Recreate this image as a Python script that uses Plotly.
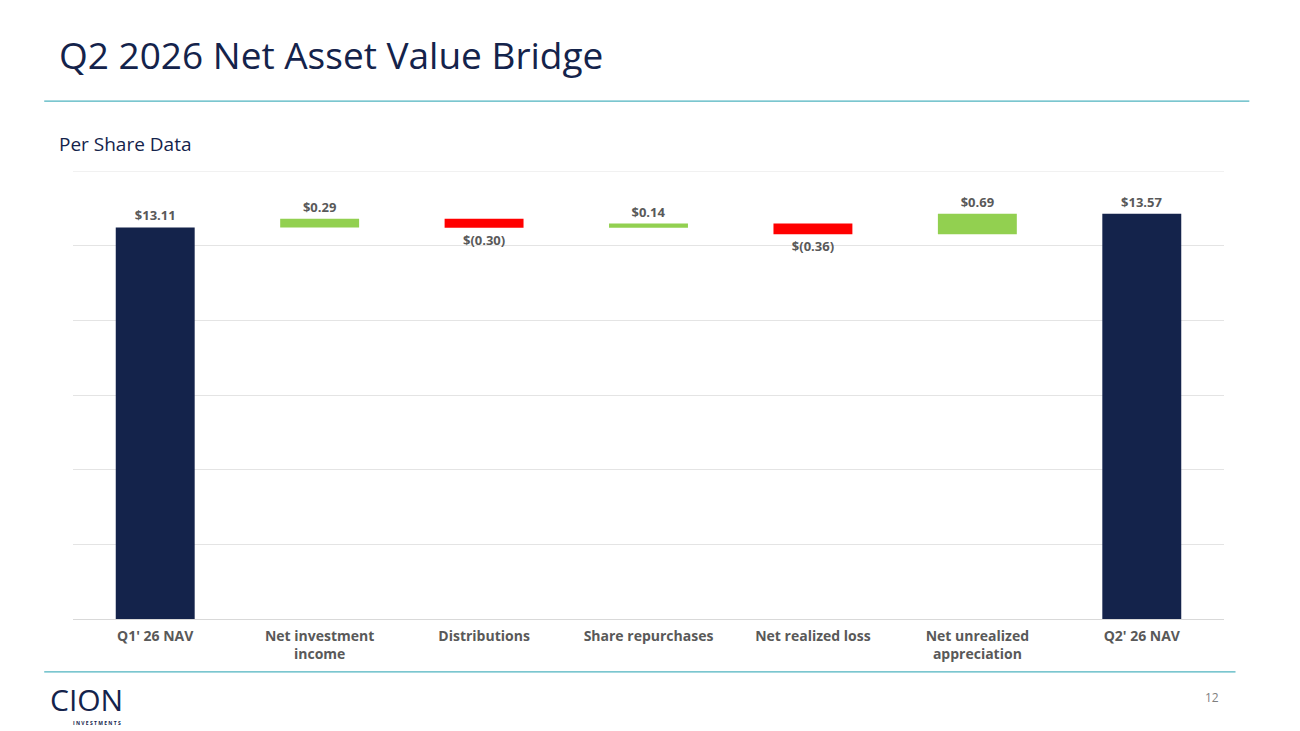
import plotly.graph_objects as go

categories = ["Q1' 26 NAV", "Net investment<br>income", "Distributions", "Share repurchases",
              "Net realized loss", "Net unrealized<br>appreciation", "Q2' 26 NAV"]
values = [13.11, 0.29, -0.30, 0.14, -0.36, 0.69, 13.57]
measures = ["absolute", "relative", "relative", "relative", "relative", "relative", "total"]
labels = ["$13.11", "$0.29", "$(0.30)", "$0.14", "$(0.36)", "$0.69", "$13.57"]

navy = "#14234b"
teal = "#4fb3bf"

fig = go.Figure(go.Waterfall(
    x=categories, y=values, measure=measures,
    text=labels, textposition="outside",
    textfont=dict(family="Open Sans", size=13, color="#595959", weight="bold"),
    increasing=dict(marker=dict(color="#92d050")),
    decreasing=dict(marker=dict(color="#ff0000")),
    totals=dict(marker=dict(color=navy)),
    connector=dict(visible=False),
    width=0.48, cliponaxis=False,
))

fig.update_layout(
    width=1300, height=731, plot_bgcolor="#FFF", paper_bgcolor="#FFF",
    margin=dict(l=65, r=84, t=163, b=120), showlegend=False,
    font=dict(family="Open Sans", color="#595959"),
    shapes=[
        dict(type="line", xref="paper", yref="paper", x0=-0.025, x1=1.022, y0=1.156, y1=1.156,
             line=dict(color=teal, width=1.2)),
        dict(type="line", xref="paper", yref="paper", x0=-0.025, x1=1.01, y0=-0.118, y1=-0.118,
             line=dict(color=teal, width=1.2)),
        dict(type="line", xref="paper", yref="y", x0=0, x1=1, y0=15, y1=15,
             line=dict(color="#e4e4e4", width=1), layer="below"),
    ],
    annotations=[
        dict(text="Q2 2026 Net Asset Value Bridge", xref="paper", yref="paper", x=-0.014, y=1.259,
             xanchor="left", yanchor="middle", showarrow=False,
             font=dict(family="Open Sans", size=37, color=navy)),
        dict(text="Per Share Data", xref="paper", yref="paper", x=-0.014, y=1.06,
             xanchor="left", yanchor="middle", showarrow=False,
             font=dict(family="Open Sans", size=19, color=navy)),
        dict(text="12", xref="paper", yref="paper", x=0.997, y=-0.175,
             xanchor="right", yanchor="middle", showarrow=False,
             font=dict(family="Open Sans", size=12, color="#7f7f7f")),
        dict(text="CION", xref="paper", yref="paper", x=-0.022, y=-0.18,
             xanchor="left", yanchor="middle", showarrow=False,
             font=dict(family="Open Sans", size=30, color=navy)),
        dict(text="<b>I N V E S T M E N T S</b>", xref="paper", yref="paper", x=-0.002, y=-0.232,
             xanchor="left", yanchor="middle", showarrow=False,
             font=dict(family="Open Sans", size=5, color=navy)),
    ],
)
fig.update_xaxes(tickfont=dict(family="Open Sans", size=14, color="#595959", weight="bold"),
                 showline=True, linecolor="#d9d9d9", ticks="", ticklabelstandoff=4)
fig.update_yaxes(range=[0, 15], dtick=2.5, showticklabels=False, gridcolor="#e4e4e4",
                 zeroline=False)
fig.write_html("out.html")
